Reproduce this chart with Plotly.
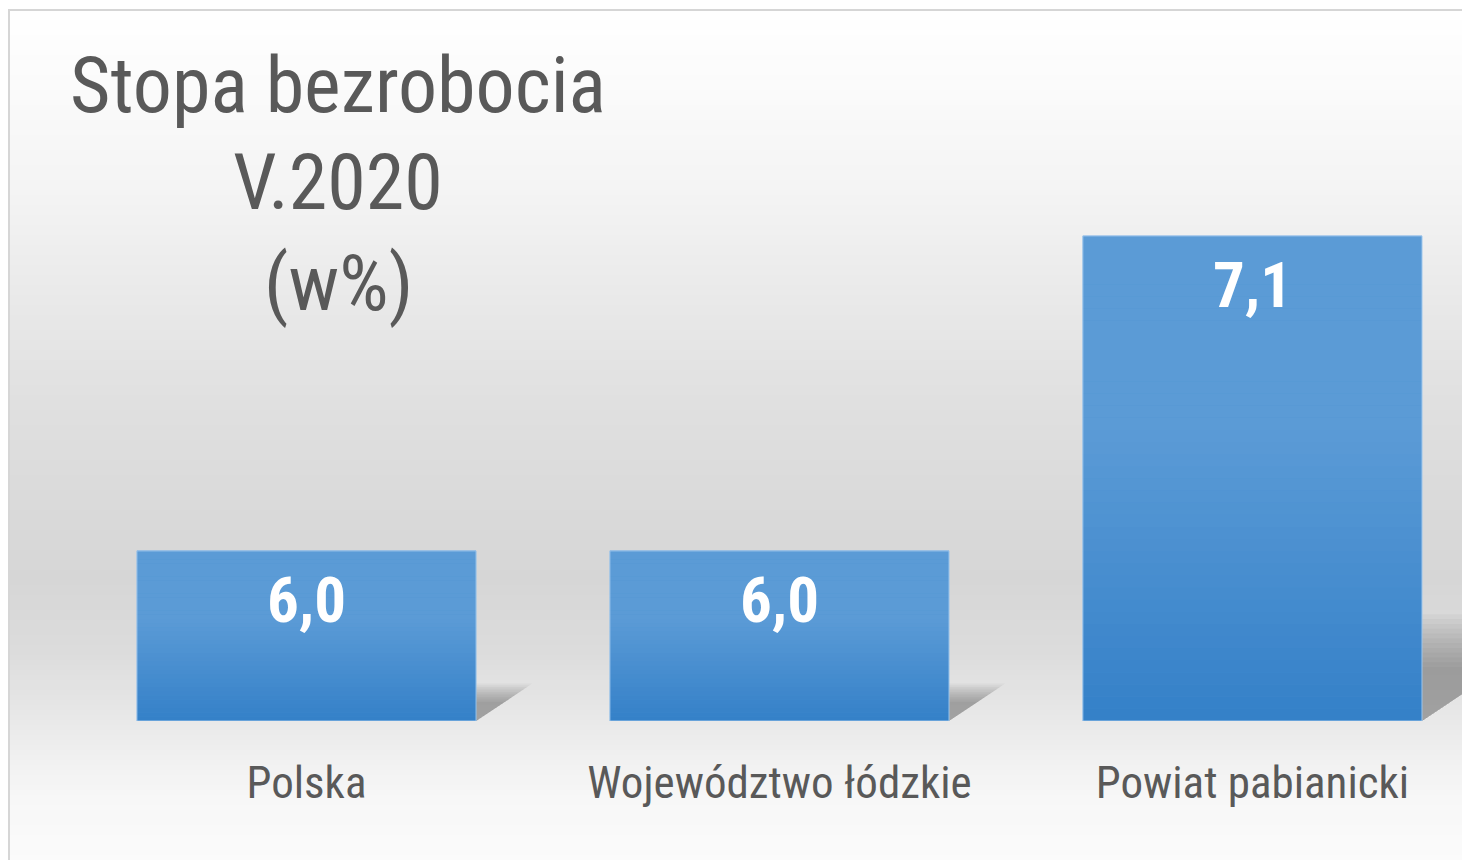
import plotly.graph_objects as go

# ---- data ----
categories = ["Polska", "Województwo łódzkie", "Powiat pabianicki"]
values = [6.0, 6.0, 7.1]
title_lines = ["Stopa bezrobocia", "V.2020", "(w%)"]

# ---- layout constants (page body has an 8px margin) ----
OFF = 8
W, H = 1462, 852
ML, MR, MT, MB = 62, 0, 2, 139
Y_MIN, Y_MAX = 5.406, 7.889
X_MIN, X_MAX = -0.5, 2.46
BAR_W = 0.717
TXT = "#595959"
FONT = "Roboto Condensed, Liberation Sans Narrow, Arial Narrow, sans-serif"


def pxx(X):
    return (X - OFF - ML) / (W - ML - MR)


def pxy(Y):
    return (H - MB - (Y - OFF)) / (H - MT - MB)


def lerp(a, b, t):
    return a + (b - a) * t


shapes = []
stops = [(10, 255), (100, 250), (200, 243), (300, 233), (400, 224), (500, 218),
         (580, 214), (650, 220), (720, 232), (760, 241), (800, 247), (860, 251)]


def gray_at(Y):
    for (y0, g0), (y1, g1) in zip(stops[:-1], stops[1:]):
        if y0 <= Y <= y1:
            return g0 + (g1 - g0) * (Y - y0) / (y1 - y0)
    return stops[-1][1]


step = 5
for Y in range(10, 860, step):
    g = int(round(gray_at(Y + step / 2)))
    shapes.append(dict(type="rect", xref="paper", yref="paper",
                       x0=pxx(9), x1=pxx(1490), y0=pxy(Y), y1=pxy(Y + step + 0.5),
                       fillcolor=f"rgb({g},{g},{g})", line=dict(width=0), layer="below"))
shapes.append(dict(type="rect", xref="paper", yref="paper",
                   x0=pxx(9), x1=pxx(1500), y0=pxy(10), y1=pxy(900),
                   fillcolor="rgba(0,0,0,0)", line=dict(color="#d6d6d6", width=2), layer="below"))

# drop shadows derived from the bar values
for i, v in enumerate(values):
    xr = i + BAR_W / 2
    h = v - Y_MIN
    for k in range(12):
        s = 1.0 - 0.045 * k
        ytop = Y_MIN + 0.22 * h * s
        dx = 0.2 * h * s
        shapes.append(dict(type="path", xref="x", yref="y",
                           path=f"M {xr},{Y_MIN} L {xr},{ytop} L {xr + dx},{ytop} Z",
                           fillcolor="rgba(70,70,70,0.045)", line=dict(width=0), layer="below"))

# vertical gradient over each bar, derived from the bar values
top_c = (91, 155, 214)
bot_c = (52, 128, 200)
N = 40
for i, v in enumerate(values):
    x0, x1 = i - BAR_W / 2, i + BAR_W / 2
    for k in range(N):
        t = (k + 0.5) / N
        f = min(1.0, t / 0.6)
        c = tuple(int(round(lerp(bot_c[j], top_c[j], f))) for j in range(3))
        y0 = Y_MIN + (v - Y_MIN) * k / N
        y1 = Y_MIN + (v - Y_MIN) * (k + 1) / N
        shapes.append(dict(type="rect", xref="x", yref="y", x0=x0, x1=x1, y0=y0, y1=y1 + 0.001,
                           fillcolor=f"rgb{c}", line=dict(width=0), layer="above"))
    shapes.append(dict(type="rect", xref="x", yref="y", x0=x0, x1=x1, y0=Y_MIN, y1=v,
                       fillcolor="rgba(0,0,0,0)", line=dict(color="#9cc5ec", width=1), layer="above"))

fig = go.Figure(go.Bar(
    x=categories, y=values, width=BAR_W,
    marker=dict(color="#4a8fd1", line=dict(width=0)),
    hoverinfo="skip",
))

annotations = []
for c, v in zip(categories, values):
    annotations.append(dict(x=c, y=v, xref="x", yref="y", yanchor="top", yshift=-11,
                            text=f"{v:.1f}".replace(".", ","), showarrow=False,
                            font=dict(family=FONT, size=63, color="white", weight="bold")))

title_y = [85, 182, 283]
for line, Y in zip(title_lines, title_y):
    annotations.append(dict(x=pxx(338), y=pxy(Y), xref="paper", yref="paper",
                            xanchor="center", yanchor="middle", text=line, showarrow=False,
                            font=dict(family=FONT, size=78, color=TXT)))

fig.update_layout(
    width=W, height=H,
    margin=dict(l=ML, r=MR, t=MT, b=MB),
    paper_bgcolor="white", plot_bgcolor="rgba(0,0,0,0)",
    showlegend=False,
    separators=", ",
    shapes=shapes,
    annotations=annotations,
    xaxis=dict(range=[X_MIN, X_MAX], showgrid=False, zeroline=False, showline=False,
               ticks="", tickfont=dict(family=FONT, size=45, color=TXT),
               ticklabelstandoff=31, fixedrange=True),
    yaxis=dict(range=[Y_MIN, Y_MAX], visible=False, fixedrange=True),
)

fig.write_html("out.html")
